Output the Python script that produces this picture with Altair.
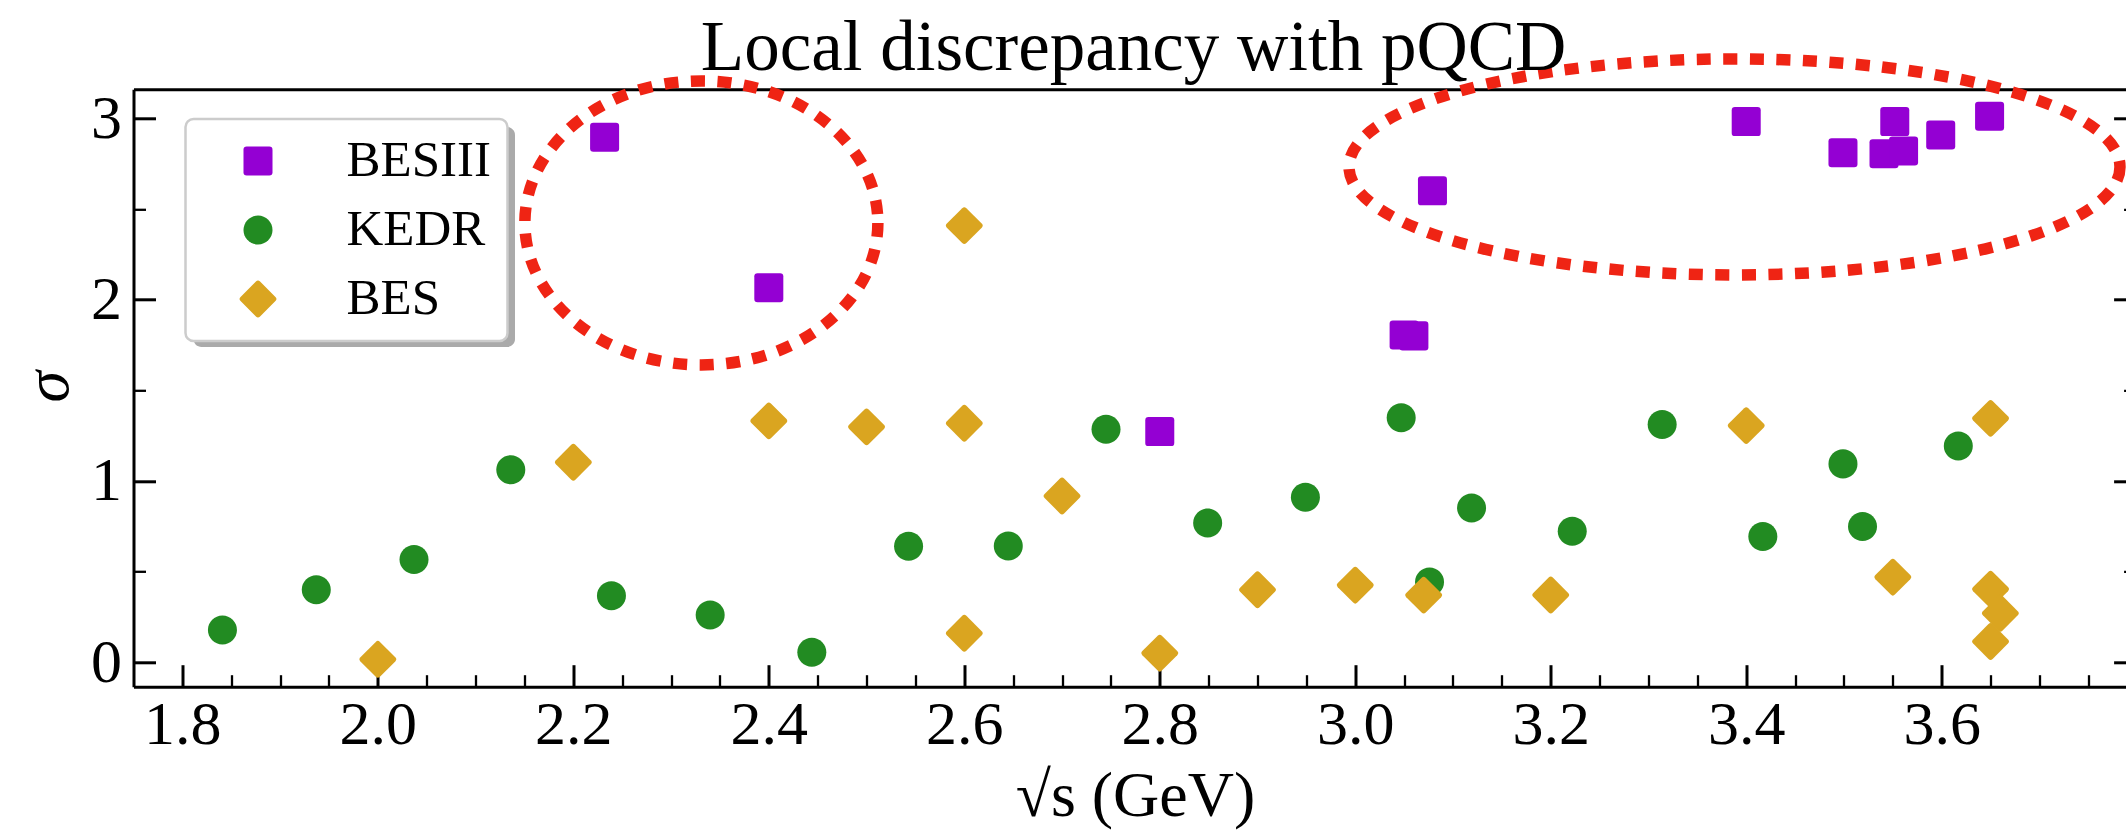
import altair as alt
import pandas as pd

# ---------------- data ----------------
besiii_energy = [2.232, 2.400, 2.800, 3.050, 3.060, 3.079, 3.400, 3.499, 3.541, 3.552, 3.561, 3.599, 3.649]
besiii_sigma = [2.896, 2.066, 1.272, 1.805, 1.800, 2.600, 2.982, 2.810, 2.805, 2.982, 2.820, 2.908, 3.012]

kedr_energy = [1.841, 1.937, 2.037, 2.136, 2.239, 2.340, 2.444, 2.543, 2.645, 2.745, 2.849,
               2.949, 3.047, 3.076, 3.119, 3.222, 3.314, 3.417, 3.499, 3.519, 3.617]
kedr_sigma = [0.178, 0.400, 0.566, 1.061, 0.367, 0.261, 0.055, 0.640, 0.641, 1.285, 0.768,
              0.910, 1.349, 0.443, 0.851, 0.722, 1.311, 0.693, 1.094, 0.748, 1.192]

bes_energy = [2.00, 2.20, 2.40, 2.50, 2.60, 2.60, 2.60, 2.70, 2.80, 2.90, 3.00, 3.07,
              3.20, 3.40, 3.55, 3.65, 3.65, 3.66, 3.65]
bes_sigma = [0.016, 1.103, 1.331, 1.298, 1.318, 0.160, 2.408, 0.917, 0.050, 0.400, 0.425, 0.370,
             0.371, 1.305, 0.469, 1.345, 0.403, 0.270, 0.114]

experiments = ["BESIII", "KEDR", "BES"]
colors = ["#9400D3", "#228B22", "#DAA520"]

# tick values / labels
x_major = [1.8, 2.0, 2.2, 2.4, 2.6, 2.8, 3.0, 3.2, 3.4, 3.6]
x_minor = [round(1.85 + 0.05 * i, 2) for i in range(39) if round((1.85 + 0.05 * i) * 5, 6) % 1 != 0]
y_major = [0, 1, 2, 3]
y_minor = [0.5, 1.5, 2.5]

# annotation ellipses: centre (data units), half-width and half-height (pixels)
ell_cx = [2.331, 3.388]
ell_cy = [2.423, 2.732]
ell_rx_px = [176.5, 385.5]
ell_ry_px = [142.0, 108.0]

title_text = "Local discrepancy with pQCD"
x_title = "√s (GeV)"
y_title = "σ"

# ---------------- layout ----------------
W, H = 1992.5, 597.4
PAD = {"left": 133.5, "top": 89.3, "right": 0, "bottom": 146.3}
X_DOMAIN = [1.75, 1.75 + W / 977.4]
Y_DOMAIN = [-0.135, 3.16]
FONT = "Liberation Serif"
RED = "#ef2414"

rows = []
for name, xs_, ys_ in [("BESIII", besiii_energy, besiii_sigma),
                       ("KEDR", kedr_energy, kedr_sigma),
                       ("BES", bes_energy, bes_sigma)]:
    for a, b in zip(xs_, ys_):
        rows.append({"energy": a, "sigma": b, "experiment": name})
points = pd.DataFrame(rows)

SQUARE = ("M-0.58,-0.744L0.58,-0.744Q0.744,-0.744,0.744,-0.58L0.744,0.58Q0.744,0.744,0.58,0.744"
          "L-0.58,0.744Q-0.744,0.744,-0.744,0.58L-0.744,-0.58Q-0.744,-0.744,-0.58,-0.744Z")
CIRCLE = ("M0.744,0C0.744,0.4109,0.4109,0.744,0,0.744C-0.4109,0.744,-0.744,0.4109,-0.744,0"
          "C-0.744,-0.4109,-0.4109,-0.744,0,-0.744C0.4109,-0.744,0.744,-0.4109,0.744,0Z")
DIAMOND = ("M-0.106,-0.894Q0,-1,0.106,-0.894L0.894,-0.106Q1,0,0.894,0.106L0.106,0.894"
           "Q0,1,-0.106,0.894L-0.894,0.106Q-1,0,-0.894,-0.106Z")


def ellipse_path(b):
    k = 0.5523
    return (f"M1,0C1,{k*b:.4f},{k:.4f},{b:.4f},0,{b:.4f}C{-k:.4f},{b:.4f},-1,{k*b:.4f},-1,0"
            f"C-1,{-k*b:.4f},{-k:.4f},{-b:.4f},0,{-b:.4f}C{k:.4f},{-b:.4f},1,{-k*b:.4f},1,0Z")


xs = alt.Scale(domain=X_DOMAIN, nice=False, zero=False)
ys = alt.Scale(domain=Y_DOMAIN, nice=False, zero=False)


def tick_axis(orient, offset, values, size, width):
    return alt.Axis(orient=orient, offset=offset, values=values, ticks=True, tickSize=size,
                    tickWidth=width, tickColor="black", labels=False, domain=False,
                    grid=False, title=None, zindex=0)


x_main = alt.Axis(orient="bottom", values=x_major, format=".1f", ticks=False, tickSize=0,
                  labelPadding=8, labelFont=FONT, labelFontSize=62, labelColor="black",
                  labelFlush=False, labelOverlap=False,
                  domain=True, domainColor="black", domainWidth=3, grid=False, zindex=0,
                  title=x_title, titleFont=FONT, titleFontSize=64, titleFontWeight="normal",
                  titleColor="black", titleX=1001.5, titleY=128.3, titleAlign="center",
                  titleBaseline="alphabetic", titleAngle=0)
y_main = alt.Axis(orient="left", values=y_major, format="d", ticks=False, tickSize=0,
                  labelPadding=12, labelFont=FONT, labelFontSize=62, labelColor="black",
                  labelFlush=False, labelOverlap=False,
                  domain=True, domainColor="black", domainWidth=3, grid=False, zindex=0,
                  title=y_title, titleFont=FONT, titleFontSize=64, titleFontWeight="normal",
                  titleFontStyle="italic", titleColor="black", titleX=-66.5, titleY=297,
                  titleAlign="center", titleBaseline="alphabetic", titleAngle=270)
x_topspine = alt.Axis(orient="top", offset=0, ticks=False, labels=False, domain=True,
                      domainColor="black", domainWidth=3, grid=False, title=None, zindex=0)

legend = alt.Legend(title=None, orient="none", legendX=52, legendY=29.7, padding=16.5,
                    symbolOffset=30.5, labelOffset=63, rowPadding=17, labelFont=FONT,
                    labelFontSize=51, labelColor="black", labelLimit=400, fillColor="white",
                    strokeColor="#cccccc", cornerRadius=8, symbolSize=1521,
                    symbolStrokeWidth=0, zindex=1)

base = alt.Chart(points)

pts = base.mark_point(filled=True, size=1521, opacity=1, strokeWidth=0).encode(
    x=alt.X("energy:Q", scale=xs, axis=x_main),
    y=alt.Y("sigma:Q", scale=ys, axis=y_main),
    color=alt.Color("experiment:N", scale=alt.Scale(domain=experiments, range=colors), legend=legend),
    shape=alt.Shape("experiment:N", scale=alt.Scale(domain=experiments, range=[SQUARE, CIRCLE, DIAMOND]),
                    legend=legend),
)


def ghost(xaxis, yaxis):
    return base.mark_point(opacity=0).encode(
        x=alt.X("energy:Q", scale=xs, axis=xaxis),
        y=alt.Y("sigma:Q", scale=ys, axis=yaxis),
    )


g2 = ghost(tick_axis("top", -H, x_major, 22, 3), tick_axis("right", -W, y_major, 22, 3))
g3 = ghost(tick_axis("top", -H, x_minor, 12, 2.3), tick_axis("right", -W, y_minor, 12, 2.3))
g4 = ghost(x_topspine, tick_axis("left", -(W + 9.6), y_major, 22, 3))
g5 = ghost(None, tick_axis("left", -(W + 9.6), y_minor, 12, 2.3))

ell_layers = []
for cx, cy, rx, ry in zip(ell_cx, ell_cy, ell_rx_px, ell_ry_px):
    d = pd.DataFrame({"energy": [cx], "sigma": [cy]})
    ell_layers.append(
        alt.Chart(d).mark_point(shape=ellipse_path(ry / rx), size=(2 * rx) ** 2, filled=False,
                                color=RED, stroke=RED, strokeWidth=11.5, strokeDash=[14, 12.5],
                                opacity=1).encode(
            x=alt.X("energy:Q", scale=xs, axis=None),
            y=alt.Y("sigma:Q", scale=ys, axis=None),
        )
    )

shadow = alt.Chart(pd.DataFrame({"k": [0]})).mark_rect(color="#aaaaaa", cornerRadius=8).encode(
    x=alt.value(60), x2=alt.value(381.5), y=alt.value(37.7), y2=alt.value(257.7)
)

title = alt.Chart(pd.DataFrame({"t": [title_text]})).mark_text(
    font=FONT, fontSize=71, fontWeight="normal", color="black", align="center",
    baseline="alphabetic"
).encode(text="t:N", x=alt.value(1000.1), y=alt.value(-19.3))

chart = alt.layer(shadow, pts, g2, g3, g4, g5, *ell_layers, title).resolve_axis(
    x="independent", y="independent"
).properties(
    width=W, height=H,
    padding=PAD,
    autosize=alt.AutoSizeParams(type="none"),
    background="white",
).configure_view(strokeWidth=0).configure_legend(strokeWidth=2.5)

chart.save("out.html", embed_options={"renderer": "svg", "actions": False})
